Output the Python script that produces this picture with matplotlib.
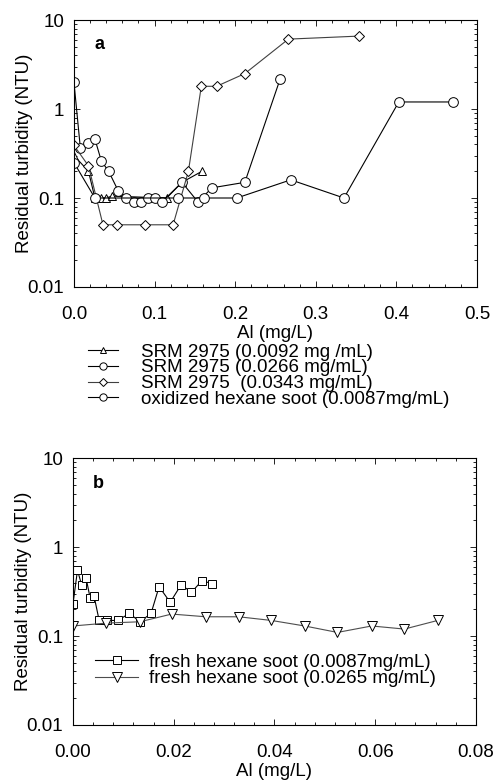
import numpy as np
from matplotlib import pyplot as plt
from matplotlib.ticker import MultipleLocator, LogLocator, NullFormatter

plt.rcParams['font.family'] = ['Liberation Sans', 'DejaVu Sans']
plt.rcParams['font.size'] = 13

# painel a - SRM 2975 e fuligem oxidada
tri_x = [0.0, 0.018, 0.026, 0.033, 0.040, 0.047, 0.115, 0.134, 0.159]
tri_y = [0.30, 0.20, 0.10, 0.10, 0.10, 0.105, 0.10, 0.15, 0.20]

circA_x = [0.0, 0.008, 0.018, 0.026, 0.034, 0.043, 0.055, 0.065, 0.074, 0.083,
           0.092, 0.101, 0.109, 0.134, 0.154, 0.171, 0.212, 0.256]
circA_y = [2.0, 0.36, 0.42, 0.46, 0.26, 0.20, 0.12, 0.10, 0.09, 0.09,
           0.10, 0.10, 0.09, 0.15, 0.09, 0.13, 0.15, 2.2]

dia_x = [0.0, 0.018, 0.036, 0.053, 0.088, 0.123, 0.142, 0.158, 0.177, 0.212, 0.266, 0.354]
dia_y = [0.39, 0.23, 0.05, 0.05, 0.05, 0.05, 0.20, 1.8, 1.8, 2.5, 6.1, 6.6]

circB_x = [0.0, 0.026, 0.129, 0.161, 0.202, 0.269, 0.335, 0.403, 0.470]
circB_y = [0.25, 0.10, 0.10, 0.10, 0.10, 0.16, 0.10, 1.2, 1.2]

# painel b - fuligem fresca
sq_x = [0.0, 0.0009, 0.0017, 0.0026, 0.0034, 0.0042, 0.0052, 0.0067, 0.0089, 0.0112,
        0.0133, 0.0155, 0.0171, 0.0193, 0.0215, 0.0235, 0.0256, 0.0276]
sq_y = [0.23, 0.55, 0.38, 0.45, 0.27, 0.28, 0.15, 0.15, 0.15, 0.18,
        0.145, 0.18, 0.36, 0.24, 0.38, 0.31, 0.42, 0.39]

tv_x = [0.0, 0.0066, 0.0133, 0.0196, 0.0264, 0.0329, 0.0394, 0.046, 0.0525, 0.0593, 0.0658, 0.0724]
tv_y = [0.13, 0.14, 0.145, 0.177, 0.165, 0.165, 0.15, 0.13, 0.11, 0.13, 0.12, 0.15]

labels_a = ['SRM 2975 (0.0092 mg /mL)', 'SRM 2975 (0.0266 mg/mL)',
            'SRM 2975  (0.0343 mg/mL)', 'oxidized hexane soot (0.0087mg/mL)']
labels_b = ['fresh hexane soot (0.0087mg/mL)', 'fresh hexane soot (0.0265 mg/mL)']

fig = plt.figure(figsize=(4.93, 7.82), dpi=100)
ax1 = fig.add_axes([0.150, 0.633, 0.8175, 0.3414])
ax2 = fig.add_axes([0.148, 0.0729, 0.8174, 0.341])

mk = dict(mfc='white', mec='black', mew=0.7, lw=0.8)
ax1.plot(tri_x, tri_y, marker='^', ms=6, color='black', label=labels_a[0], **mk)
ax1.plot(circA_x, circA_y, marker='o', ms=7, color='black', label=labels_a[1], **mk)
ax1.plot(dia_x, dia_y, marker='D', ms=5.5, color='0.25', label=labels_a[2], **mk)
ax1.plot(circB_x, circB_y, marker='o', ms=7, color='black', label=labels_a[3], **mk)

ax2.plot(sq_x, sq_y, marker='s', ms=6, color='black', label=labels_b[0], **mk)
ax2.plot(tv_x, tv_y, marker='v', ms=6.5, color='0.3', label=labels_b[1], **mk)

for ax, xmax, maj, mn in [(ax1, 0.5, 0.1, 0.02), (ax2, 0.08, 0.02, 0.004)]:
    ax.set_yscale('log')
    ax.set_ylim(0.01, 10)
    ax.set_xlim(0, xmax)
    ax.xaxis.set_major_locator(MultipleLocator(maj))
    ax.xaxis.set_minor_locator(MultipleLocator(mn))
    ax.yaxis.set_major_locator(LogLocator(base=10))
    ax.yaxis.set_minor_locator(LogLocator(base=10, subs=np.arange(2, 10)))
    ax.yaxis.set_minor_formatter(NullFormatter())
    ax.set_yticks([0.01, 0.1, 1, 10])
    ax.set_yticklabels(['0.01', '0.1', '1', '10'])
    ax.tick_params(which='both', direction='in', top=True, right=True, width=0.6)
    ax.tick_params(which='major', length=4, labelsize=13.5)
    ax.tick_params(axis='x', which='major', pad=14)
    ax.tick_params(axis='y', which='major', pad=7)
    ax.tick_params(which='minor', length=2)
    for s in ax.spines.values():
        s.set_linewidth(0.8)
    ax.set_xlabel('Al (mg/L)', labelpad=1, fontsize=13.5)
    ax.set_ylabel('Residual turbidity (NTU)', fontsize=13.5)
    ax.yaxis.set_label_coords(-0.102, 0.5)

ax1.set_xticklabels(['%.1f' % v for v in ax1.get_xticks()])
ax2.set_xticklabels(['%.2f' % v for v in ax2.get_xticks()])

ax1.text(0.05, 0.89, 'a', transform=ax1.transAxes, fontsize=13, fontweight='bold')
ax2.text(0.05, 0.89, 'b', transform=ax2.transAxes, fontsize=13, fontweight='bold')

ax1.legend(loc='upper left', bbox_to_anchor=(0.1785, 0.5605), bbox_transform=fig.transFigure,
           frameon=False, borderpad=0, borderaxespad=0, handlelength=1.6, handletextpad=1.2,
           labelspacing=-0.08, markerscale=0.75, fontsize=13.5)
ax2.legend(loc='upper left', bbox_to_anchor=(0.1927, 0.1640), bbox_transform=fig.transFigure,
           frameon=False, borderpad=0, borderaxespad=0, handlelength=2.3, handletextpad=0.6,
           labelspacing=-0.05, fontsize=13.5)

plt.savefig('out.png', dpi=100)
